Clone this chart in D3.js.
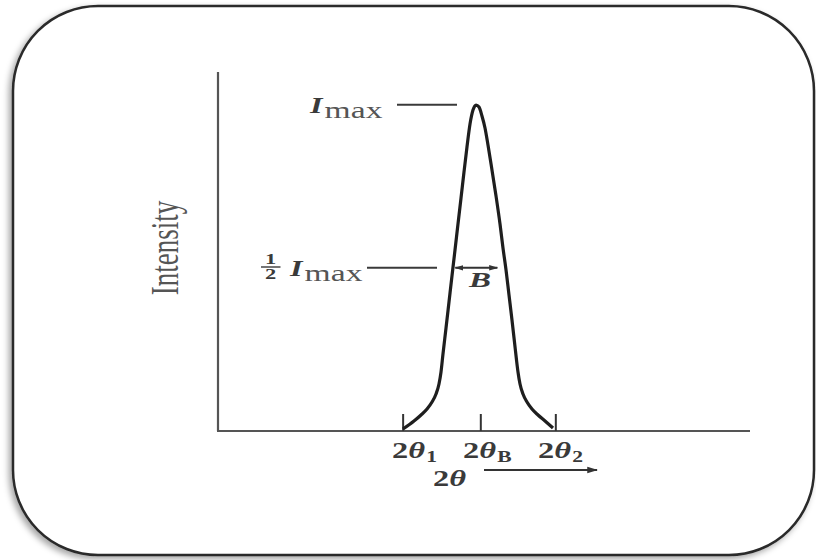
<!DOCTYPE html>
<html><head><meta charset="utf-8">
<script src="https://cdnjs.cloudflare.com/ajax/libs/d3/7.8.5/d3.min.js"></script>
<style>html,body{margin:0;padding:0;background:#fff;}svg{display:block;}</style>
</head><body>
<svg id="c" width="816" height="560"></svg>
<script>
// Peak profile: 2θ (arbitrary units) vs intensity (relative to Imax)
const twoTheta = [34.77, 36.84, 38.16, 39.29, 40.23, 40.98, 41.54, 41.92, 42.29, 42.86, 43.42, 43.98, 44.55, 45.11, 45.68, 46.24, 46.80, 47.37, 47.93, 48.50, 49.06, 49.62, 50.19, 50.75, 51.50, 52.26, 53.01, 53.57, 54.14, 54.70, 55.26, 55.73, 56.11, 56.39, 56.77, 57.33, 58.08, 59.02, 60.15, 61.47, 62.97];
const intensity = [0.0061, 0.0306, 0.0490, 0.0674, 0.0888, 0.1134, 0.1440, 0.1808, 0.2359, 0.3156, 0.3952, 0.4749, 0.5545, 0.6342, 0.7138, 0.7935, 0.8701, 0.9406, 0.9835, 0.9988, 0.9926, 0.9651, 0.9283, 0.8762, 0.7996, 0.7200, 0.6342, 0.5607, 0.4933, 0.4167, 0.3401, 0.2727, 0.2175, 0.1808, 0.1440, 0.1134, 0.0888, 0.0674, 0.0490, 0.0306, 0.0092];
const tickValues = [34.8, 49.4, 63.5];
const tickLabels = [["2", "θ", "1"], ["2", "θ", "B"], ["2", "θ", "2"]];
const iMax = 1.0, halfMax = 0.5;
const fwhm = [44.6, 52.5];
const yLabel = "Intensity";

const svg = d3.select("#c");
const defs = svg.append("defs");
const f = defs.append("filter").attr("id", "sh").attr("x", "-5%").attr("y", "-5%").attr("width", "110%").attr("height", "110%");
f.append("feDropShadow").attr("dx", -3).attr("dy", 3).attr("stdDeviation", 3).attr("flood-color", "#000").attr("flood-opacity", 0.35);
function mk(id, w) {
  defs.append("marker").attr("id", id).attr("viewBox", "0 0 10 10").attr("refX", 9).attr("refY", 5)
    .attr("markerWidth", w).attr("markerHeight", w).attr("orient", "auto-start-reverse")
    .append("path").attr("d", "M0,2 L10,5 L0,8 Z").attr("fill", "#333");
}
mk("arr", 6);
mk("arrS", 4.5);

// frame
svg.append("rect").attr("x", 13).attr("y", 6).attr("width", 801).attr("height", 549)
  .attr("rx", 85).attr("ry", 85).attr("fill", "#fff").attr("stroke", "#2a2a2a").attr("stroke-width", 2.5)
  .attr("filter", "url(#sh)");

const x = d3.scaleLinear().domain([0, 100]).range([218, 750]);
const y = d3.scaleLinear().domain([0, 1.1]).range([431, 72]);
const ink = "#3a3a3a";

// axes
svg.append("line").attr("x1", x(0)).attr("x2", x(0)).attr("y1", y(1.1)).attr("y2", y(0)).attr("stroke", "#555").attr("stroke-width", 2.2);
svg.append("line").attr("x1", x(0) - 1).attr("x2", x(100)).attr("y1", y(0)).attr("y2", y(0)).attr("stroke", "#555").attr("stroke-width", 2);

// ticks
svg.selectAll(".tk").data(tickValues).join("line").attr("class", "tk")
  .attr("x1", d => x(d)).attr("x2", d => x(d)).attr("y1", y(0)).attr("y2", y(0) - 17)
  .attr("stroke", "#333").attr("stroke-width", 2);

// curve
const pts = twoTheta.map((t, i) => [x(t), y(intensity[i])]);
svg.append("path").attr("d", d3.line().curve(d3.curveMonotoneX)(pts))
  .attr("fill", "none").attr("stroke", "#1e1e1e").attr("stroke-width", 3.2).attr("stroke-linejoin", "round");

// reference lines
svg.append("line").attr("x1", 397).attr("x2", 457).attr("y1", y(iMax)).attr("y2", y(iMax)).attr("stroke", ink).attr("stroke-width", 2);
svg.append("line").attr("x1", 367).attr("x2", 437).attr("y1", y(halfMax)).attr("y2", y(halfMax)).attr("stroke", ink).attr("stroke-width", 2);
svg.append("line").attr("x1", x(fwhm[0])).attr("x2", x(fwhm[1])).attr("y1", y(halfMax)).attr("y2", y(halfMax))
  .attr("stroke", "#333").attr("stroke-width", 2).attr("marker-start", "url(#arrS)").attr("marker-end", "url(#arrS)");

// text helper (horizontally stretched serif)
const SX = 1.5;
function grp(px, py, sx) { return svg.append("g").attr("transform", `translate(${px},${py}) scale(${sx || SX},1)`); }
const font = "'Liberation Serif', 'DejaVu Serif', serif";

function imaxLabel(px, py) {
  const t = grp(px, py, 1.4).append("text").attr("font-family", font).attr("fill", ink);
  t.append("tspan").attr("font-size", 23).attr("font-weight", "bold").attr("font-style", "italic").text("I");
  t.append("tspan").attr("font-size", 24).attr("dy", 5).attr("dx", 1.5).attr("fill", "#555").text("max");
}
imaxLabel(310, 113);
// 1/2 Imax
{
  const g = grp(261, 0);
  g.append("text").attr("x", 6.5).attr("y", 264).attr("text-anchor", "middle").attr("font-family", font).attr("font-size", 15).attr("font-weight", "bold").attr("fill", ink).text("1");
  g.append("line").attr("x1", 0).attr("x2", 13).attr("y1", 267).attr("y2", 267).attr("stroke", ink).attr("stroke-width", 1.4);
  g.append("text").attr("x", 6.5).attr("y", 279).attr("text-anchor", "middle").attr("font-family", font).attr("font-size", 15).attr("font-weight", "bold").attr("fill", ink).text("2");
  imaxLabel(290, 276);
}
// B
grp(480, 287).append("text").attr("text-anchor", "middle").attr("font-family", font).attr("font-size", 22)
  .attr("font-weight", "bold").attr("font-style", "italic").attr("fill", ink).text("B");

// tick labels
const labelX = [392, 463, 538];
tickLabels.forEach((lab, i) => {
  const t = grp(labelX[i], 458, 1.35).append("text").attr("font-family", font).attr("fill", ink).attr("font-weight", "bold");
  t.append("tspan").attr("font-size", 24).text(lab[0]);
  t.append("tspan").attr("font-size", 24).attr("font-style", "italic").text(lab[1]);
  t.append("tspan").attr("font-size", 16).attr("dy", 4).attr("dx", 1).text(lab[2]);
});
// 2θ axis title with arrow
{
  const t = grp(433, 486, 1.35).append("text").attr("font-family", font).attr("fill", ink).attr("font-weight", "bold");
  t.append("tspan").attr("font-size", 24).text("2");
  t.append("tspan").attr("font-size", 24).attr("font-style", "italic").text("θ");
  svg.append("line").attr("x1", 484).attr("x2", 597).attr("y1", 470).attr("y2", 470).attr("stroke", "#333").attr("stroke-width", 1.8).attr("marker-end", "url(#arr)");
}
// y label
svg.append("g").attr("transform", `translate(178,248) scale(${SX},1) rotate(-90)`)
  .append("text").attr("text-anchor", "middle").attr("font-family", font).attr("font-size", 27).attr("fill", "#555").text(yLabel);
</script>
</body></html>
